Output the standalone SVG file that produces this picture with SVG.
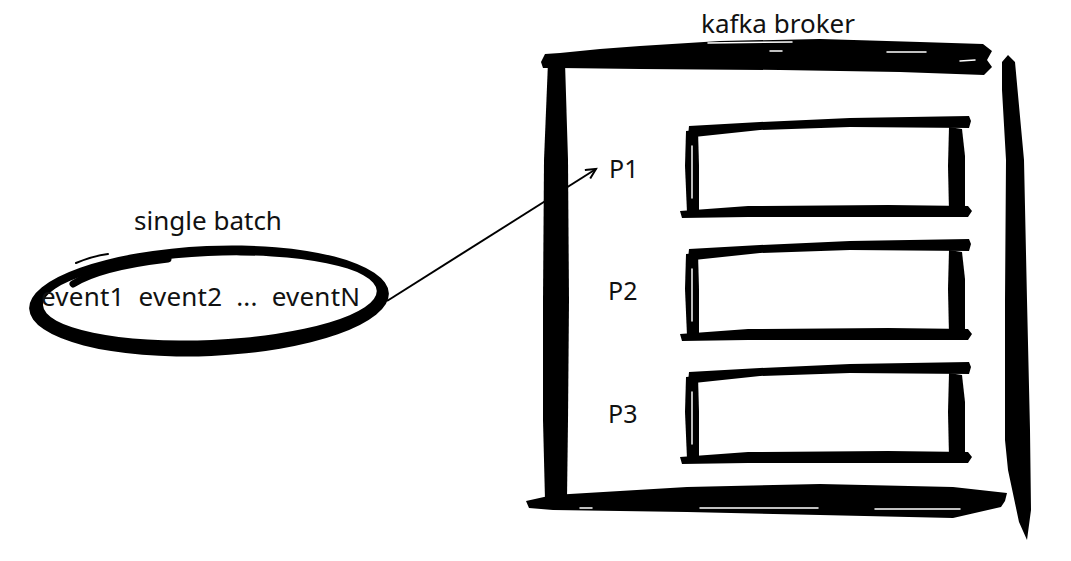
<svg xmlns="http://www.w3.org/2000/svg" width="1071" height="561" viewBox="0 0 1071 561">
  <style>
    .lbl { font-family: "Noto Sans", "Open Sans", sans-serif; font-size: 26px; fill: #111; }
    .plbl { font-family: "Noto Sans", "Open Sans", sans-serif; font-size: 25px; fill: #111; }
    .ink { fill: #000; stroke: none; }
    .streak { fill: none; stroke: #fff; stroke-width: 1.5; stroke-linecap: round; }
    .conn { fill: none; stroke: #000; stroke-width: 2; }
  </style>
  <defs>
    <marker id="arrow" markerUnits="userSpaceOnUse" markerWidth="14" markerHeight="14" refX="11" refY="6" orient="auto">
      <path d="M1,1 L11,6 L1,11" fill="none" stroke="#000" stroke-width="2" stroke-linejoin="miter"/>
    </marker>
    <g id="partbox">
      <path class="ink" d="M1,0 L72,-4 L162,-8 L281,-10 L283,-5 L281,2 L162,1 L72,4 L6,11 L0,10 Z"/>
      <path class="ink" d="M-2,5 L10,4 L11,40 L11,87 L-1,87 L-3,40 Z"/>
      <path class="ink" d="M261,1 L274,3 L277,30 L277,86 L261,86 L260,40 Z"/>
      <path class="ink" d="M-8,85 L60,80 L200,79 L280,80 L284,85 L280,91 L200,91 L60,91 L-6,92 Z"/>
      <path class="streak" d="M4,20 L4,72" stroke-width="1"/>
    </g>
  </defs>
  <rect width="1071" height="561" fill="#fff"/>

  <g id="batch">
    <path class="ink" fill-rule="evenodd" transform="rotate(-2.5 209 301)"
      d="M29,301 a180,55 0 1,0 360,0 a180,55 0 1,0 -360,0 Z M43,298 a167,42 0 1,0 334,0 a167,42 0 1,0 -334,0 Z"/>
    <path d="M73,284 Q100,267 168,259" fill="none" stroke="#000" stroke-width="7" stroke-linecap="round"/>
    <path d="M76,263 Q92,256 108,254" fill="none" stroke="#000" stroke-width="2" stroke-linecap="round"/>
    <text class="lbl" x="208" y="230" text-anchor="middle">single batch</text>
    <text class="lbl" x="41" y="306" xml:space="preserve" textLength="319" lengthAdjust="spacing">event1  event2  ...  eventN</text>
  </g>

  <g id="broker">
    <path class="ink" d="M541,62 L545,54 L560,53 L600,49 L640,46 L720,41 L820,39 L920,42 L983,44 L992,51 L987,60 L992,67 L984,75 L900,72 L780,70 L640,69 L560,68 L543,68 Z"/>
    <path class="ink" d="M548,62 L565,62 L568,160 L569,300 L568,420 L567,499 L545,500 L543,420 L543,300 L544,160 Z"/>
    <path class="ink" d="M1002,62 L1008,55 L1015,62 L1024,160 L1027,300 L1030,430 L1031,510 L1027,540 L1019,522 L1008,470 L1005,440 L1005,300 L1006,160 L1002,90 Z"/>
    <path class="ink" d="M526,501 L553,495 L687,487 L820,484 L953,487 L1007,493 L1005,501 L1001,507 L953,518 L820,515 L687,512 L553,510 L529,508 Z"/>
    <path class="streak" d="M708,43 L792,42 M770,51 L782,51 M887,52 L926,52 M960,61 L975,60"/>
    <path class="streak" d="M700,508 L818,508 M875,509 L960,509 M580,508 L592,508"/>
    <text class="lbl" x="778" y="33" text-anchor="middle">kafka broker</text>
  </g>

  <g id="p1">
    <use href="#partbox" x="688" y="126"/>
    <text class="plbl" x="609" y="178">P1</text>
  </g>
  <g id="p2">
    <use href="#partbox" x="688" y="249"/>
    <text class="plbl" x="608" y="300">P2</text>
  </g>
  <g id="p3">
    <use href="#partbox" x="688" y="372"/>
    <text class="plbl" x="608" y="423">P3</text>
  </g>

  <g id="connectors">
    <line class="conn" x1="387" y1="301" x2="596" y2="169" marker-end="url(#arrow)"/>
  </g>
</svg>
